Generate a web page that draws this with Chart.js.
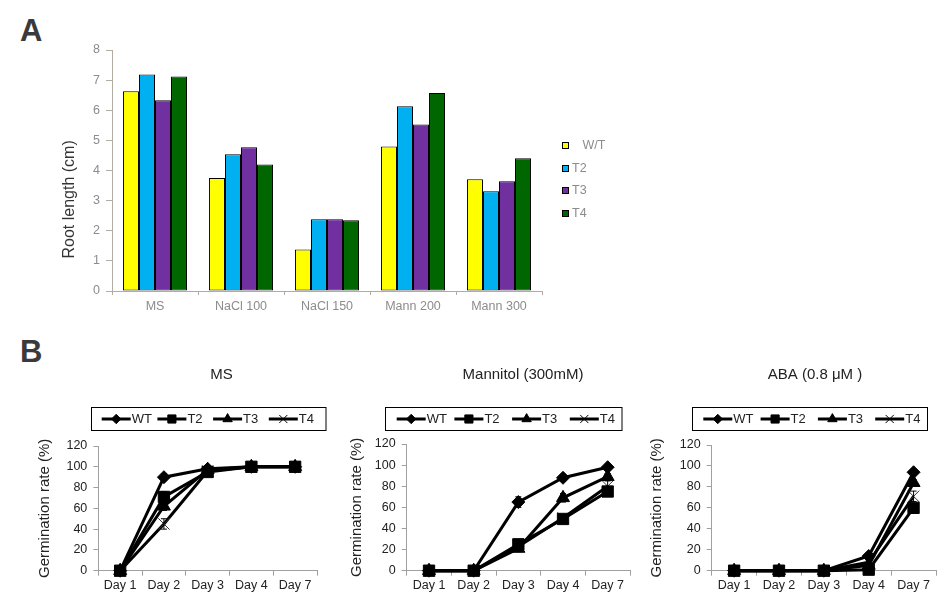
<!DOCTYPE html>
<html><head><meta charset="utf-8">
<script src="https://cdn.jsdelivr.net/npm/chart.js@4/dist/chart.umd.min.js"></script>
<style>
html,body{margin:0;padding:0;background:#fff;width:951px;height:604px;overflow:hidden;position:relative;font-family:"Liberation Sans",Arial,sans-serif}
canvas{position:absolute}
.lab{position:absolute;font-weight:bold;font-size:31px;color:#3a3a3a;line-height:1;font-family:"Liberation Sans",Arial,sans-serif}
</style></head><body>
<div class="lab" style="left:20px;top:15px">A</div>
<div class="lab" style="left:20px;top:336px">B</div>
<canvas id="cA" width="640" height="330" style="left:0;top:0"></canvas>
<canvas id="cMS" width="383" height="249" style="left:30px;top:355px"></canvas>
<canvas id="cMan" width="366" height="249" style="left:340px;top:355px"></canvas>
<canvas id="cABA" width="350" height="249" style="left:640px;top:355px"></canvas>
<script>
// ---------- Panel A data ----------
const groupsA = ['MS', 'NaCl 100', 'NaCl 150', 'Mann 200', 'Mann 300'];
const seriesA = ['   W/T', 'T2', 'T3', 'T4'];
const rootWT = [6.63, 3.75, 1.38, 4.80, 3.71];
const rootT2 = [7.19, 4.54, 2.38, 6.13, 3.31];
const rootT3 = [6.33, 4.77, 2.38, 5.53, 3.64];
const rootT4 = [7.12, 4.20, 2.35, 6.57, 4.41];
const yTicksA = {min: 0, max: 8, step: 1};

// ---------- Panel B data ----------
const days = ['Day 1', 'Day 2', 'Day 3', 'Day 4', 'Day 7'];
const lineSeries = ['WT', 'T2', 'T3', 'T4'];
const yTicksB = {min: 0, max: 120, step: 20};
const msWT = [0, 90, 98, 100, 100];
const msT2 = [0, 71, 95, 100, 100];
const msT3 = [0, 62, 97, 100, 100];
const msT4 = [0, 45, 96, 100, 100];
const msErr = [[0, 3, 1, 0, 0], [0, 5, 1, 0, 0], [0, 4, 1, 0, 0], [0, 5, 1, 0, 0]];
const manWT = [0, 0, 65, 88, 98];
const manT2 = [0, 0, 25, 49, 75];
const manT3 = [0, 0, 21, 69, 89];
const manT4 = [0, 0, 23, 50, 80];
const manErr = [[0, 0, 5, 3, 2], [0, 0, 2, 2, 2], [0, 0, 3, 4, 3], [0, 0, 2, 2, 5]];
const abaWT = [0, 0, 0, 14, 94];
const abaT2 = [0, 0, 0, 1, 60];
const abaT3 = [0, 0, 0, 5, 84];
const abaT4 = [0, 0, 0, 8, 71];
const abaErr = [[0, 0, 0, 2, 2], [0, 0, 0, 1, 3], [0, 0, 0, 2, 3], [0, 0, 0, 2, 5]];

const FONT = '"Liberation Sans", Arial, sans-serif';
Chart.defaults.font.family = FONT;

// ---------- plugins ----------
const legendA = {
  id: 'legendA',
  afterDraw(chart, args, o) {
    const ctx = chart.ctx, ca = chart.chartArea;
    ctx.save();
    ctx.font = '12.5px ' + FONT;
    ctx.textBaseline = 'middle';
    ctx.textAlign = 'left';
    chart.data.datasets.forEach((ds, i) => {
      const x = Math.round(ca.right + o.dx), y = Math.round(ca.top + o.dy + i * o.step);
      ctx.fillStyle = ds.backgroundColor;
      ctx.fillRect(x, y - 3, 7, 7);
      ctx.strokeStyle = '#000'; ctx.lineWidth = 1;
      ctx.strokeRect(x + 0.5, y - 2.5, 6, 6);
      ctx.fillStyle = '#8c8c8c';
      ctx.fillText(ds.label, x + 10, y + 1);
    });
    ctx.restore();
  }
};

const legendB = {
  id: 'legendB',
  afterDraw(chart, args, o) {
    if (!o || o.width === undefined) return;
    const ctx = chart.ctx, ca = chart.chartArea;
    const left = Math.round(ca.left + o.dx), top = Math.round(o.top);
    ctx.save();
    ctx.strokeStyle = '#000'; ctx.lineWidth = 1;
    ctx.strokeRect(left + 0.5, top + 0.5, o.width, o.height);
    ctx.font = '13px ' + FONT;
    ctx.textBaseline = 'middle';
    ctx.textAlign = 'left';
    const y = top + o.height / 2 + 0.5;
    chart.data.datasets.forEach((ds, i) => {
      const x0 = left + o.pad + i * o.step;
      ctx.strokeStyle = '#000'; ctx.lineWidth = 3;
      ctx.beginPath(); ctx.moveTo(x0, y); ctx.lineTo(x0 + o.len, y); ctx.stroke();
      ctx.fillStyle = '#000'; ctx.strokeStyle = '#000'; ctx.lineWidth = 1;
      const opt = {pointStyle: ds.pointStyle, radius: ds.pointRadius * 0.72, borderWidth: 1, rotation: 0};
      if (Chart.helpers && Chart.helpers.drawPoint) {
        Chart.helpers.drawPoint(ctx, opt, x0 + o.len / 2, y);
      }
      ctx.fillStyle = '#222';
      ctx.fillText(ds.label, x0 + o.len + 1, y);
    });
    ctx.restore();
  }
};

const errorBars = {
  id: 'errorBars',
  afterDatasetsDraw(chart) {
    const ctx = chart.ctx, xs = chart.scales.x, ys = chart.scales.y;
    ctx.save();
    ctx.strokeStyle = '#000'; ctx.lineWidth = 1;
    chart.data.datasets.forEach((ds) => {
      if (!ds.errors) return;
      ds.data.forEach((v, i) => {
        const e = ds.errors[i];
        if (!e) return;
        const x = xs.getPixelForValue(i);
        const y1 = ys.getPixelForValue(v + e), y2 = ys.getPixelForValue(Math.max(0, v - e));
        ctx.beginPath();
        ctx.moveTo(x, y1); ctx.lineTo(x, y2);
        ctx.moveTo(x - 3, y1); ctx.lineTo(x + 3, y1);
        ctx.moveTo(x - 3, y2); ctx.lineTo(x + 3, y2);
        ctx.stroke();
      });
    });
    ctx.restore();
  }
};

// ---------- Panel A ----------
const axisA = '#b0aca2';
const colorsA = ['#ffff00', '#00b0f0', '#7030a0', '#006600'];
const valuesA = [rootWT, rootT2, rootT3, rootT4];
new Chart(document.getElementById('cA'), {
  type: 'bar',
  data: {
    labels: groupsA,
    datasets: seriesA.map((s, i) => ({
      label: s, data: valuesA[i], backgroundColor: colorsA[i],
      borderColor: '#000', borderWidth: 1, borderSkipped: false,
      categoryPercentage: 0.745, barPercentage: 1.0
    }))
  },
  options: {
    responsive: false, animation: false,
    layout: {padding: {top: 50, right: 98, bottom: 0, left: 0}},
    plugins: {
      legend: {display: false}, tooltip: {enabled: false},
      legendA: {dx: 20, dy: 95, step: 22.7}
    },
    scales: {
      x: {
        grid: {display: true, drawOnChartArea: false, offset: true, tickLength: 4, color: axisA},
        border: {color: axisA},
        ticks: {color: '#8c8c8c', font: {size: 12.5}, padding: 4},
        afterFit: s => { s.height = 39; }
      },
      y: {
        min: yTicksA.min, max: yTicksA.max,
        grid: {drawOnChartArea: false, tickLength: 6, color: axisA},
        border: {color: axisA},
        ticks: {stepSize: yTicksA.step, color: '#8c8c8c', font: {size: 12.5}, padding: 6},
        title: {display: true, text: 'Root length (cm)             ', color: '#333', font: {size: 16}, padding: {top: 60, bottom: 0}},
        afterFit: s => { s.width = 112; }
      }
    }
  },
  plugins: [legendA]
});

// ---------- Panel B ----------
const styles = ['rectRot', 'rect', 'triangle', 'crossRot'];
const radii = [6.5, 8, 7.5, 8];
function lineChart(id, title, vals, errs, geo) {
  new Chart(document.getElementById(id), {
    type: 'line',
    data: {
      labels: days,
      datasets: lineSeries.map((s, i) => ({
        label: s, data: vals[i], errors: errs[i], clip: false,
        borderColor: '#000', borderWidth: 3, backgroundColor: '#000',
        pointStyle: styles[i], pointRadius: radii[i],
        pointBackgroundColor: '#000', pointBorderColor: i === 3 ? '#333' : '#000',
        pointBorderWidth: 1, tension: 0, fill: false
      }))
    },
    options: {
      responsive: false, animation: false,
      layout: {padding: 0},
      plugins: {
        legend: {display: false}, tooltip: {enabled: false},
        title: {display: true, text: title, color: '#222', font: {size: 15, weight: 'normal'},
                padding: {top: 11, bottom: geo.titleBottom}},
        legendB: geo.legend
      },
      scales: {
        x: {
          offset: true,
          grid: {display: true, drawOnChartArea: false, offset: true, tickLength: 5, color: '#a0a0a0'},
          border: {color: '#a0a0a0'},
          ticks: {color: '#222', font: {size: 12.5}, padding: 2},
          afterFit: s => { s.height = 33.3; }
        },
        y: {
          min: yTicksB.min, max: yTicksB.max,
          grid: {drawOnChartArea: false, tickLength: 5, color: '#a0a0a0'},
          border: {color: '#a0a0a0'},
          ticks: {stepSize: yTicksB.step, color: '#222', font: {size: 12.5}, padding: 6},
          title: {display: true, text: 'Germination rate (%)', color: '#222', font: {size: 15}, padding: {top: geo.yTitlePad, bottom: 0}},
          afterFit: s => { s.width = geo.yW; }
        },
        yR: {
          type: 'linear', position: 'right', display: true,
          grid: {display: false}, border: {display: false}, ticks: {display: false},
          afterFit: s => { s.width = geo.R; }
        }
      }
    },
    plugins: [errorBars, legendB]
  });
}

lineChart('cMS', 'MS', [msWT, msT2, msT3, msT4], msErr,
  {yW: 68.3, R: 96, titleBottom: 62, yTitlePad: 6,
   legend: {dx: -7.3, top: 51.5, width: 234.5, height: 23, pad: 10.7, step: 55.7, len: 29}});
lineChart('cMan', 'Mannitol (300mM)', [manWT, manT2, manT3, manT4], manErr,
  {yW: 66.7, R: 76, titleBottom: 60, yTitlePad: 8,
   legend: {dx: -21.7, top: 51.5, width: 236.5, height: 23, pad: 11.7, step: 57.7, len: 29}});
lineChart('cABA', 'ABA (0.8 μM )', [abaWT, abaT2, abaT3, abaT4], abaErr,
  {yW: 71.7, R: 54, titleBottom: 61, yTitlePad: 7.7,
   legend: {dx: -20, top: 51.5, width: 235, height: 23, pad: 11.3, step: 57.3, len: 29}});
</script>
</body></html>
